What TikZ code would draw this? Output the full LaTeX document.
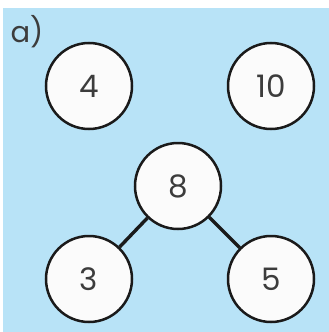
\documentclass[tikz,border=0pt]{standalone}
\usepackage{fontspec}
\setmainfont{Poppins}
\definecolor{bondSky}{HTML}{B8E3F7}
\definecolor{bondInk}{HTML}{1A1A1A}
\definecolor{bondPaper}{HTML}{FBFBFB}
\tikzset{
  bond ball/.style={circle, draw=bondInk, fill=bondPaper, line width=2.5pt, minimum size=86pt, inner sep=0pt, font=\fontsize{31}{31}\selectfont, text=bondInk!85},
  bond link/.style={draw=bondInk, line width=3.4pt},
  bond tag/.style={font=\fontsize{29}{29}\selectfont, text=bondInk!85},
}
\begin{document}
\begin{tikzpicture}[x=1pt, y=-1pt]
  \useasboundingbox (0,0) rectangle (329,332);
  \fill[white] (0,0) rectangle (329,332);
  \fill[bondSky] (3,8) rectangle (329,332);
  % part label
  \node[bond tag] (tag) at (27,32) {a)};
  % loose numbers on top
  \node[bond ball] (four) at (89,86) {4};
  \node[bond ball] (ten) at (271,86) {10};
  % number bond: whole and its two parts
  \node[bond ball] (whole) at (178,186) {8};
  \node[bond ball] (partA) at (89,279) {3};
  \node[bond ball] (partB) at (271,279) {5};
  \draw[bond link] (whole) -- (partA);
  \draw[bond link] (whole) -- (partB);
\end{tikzpicture}
\end{document}
